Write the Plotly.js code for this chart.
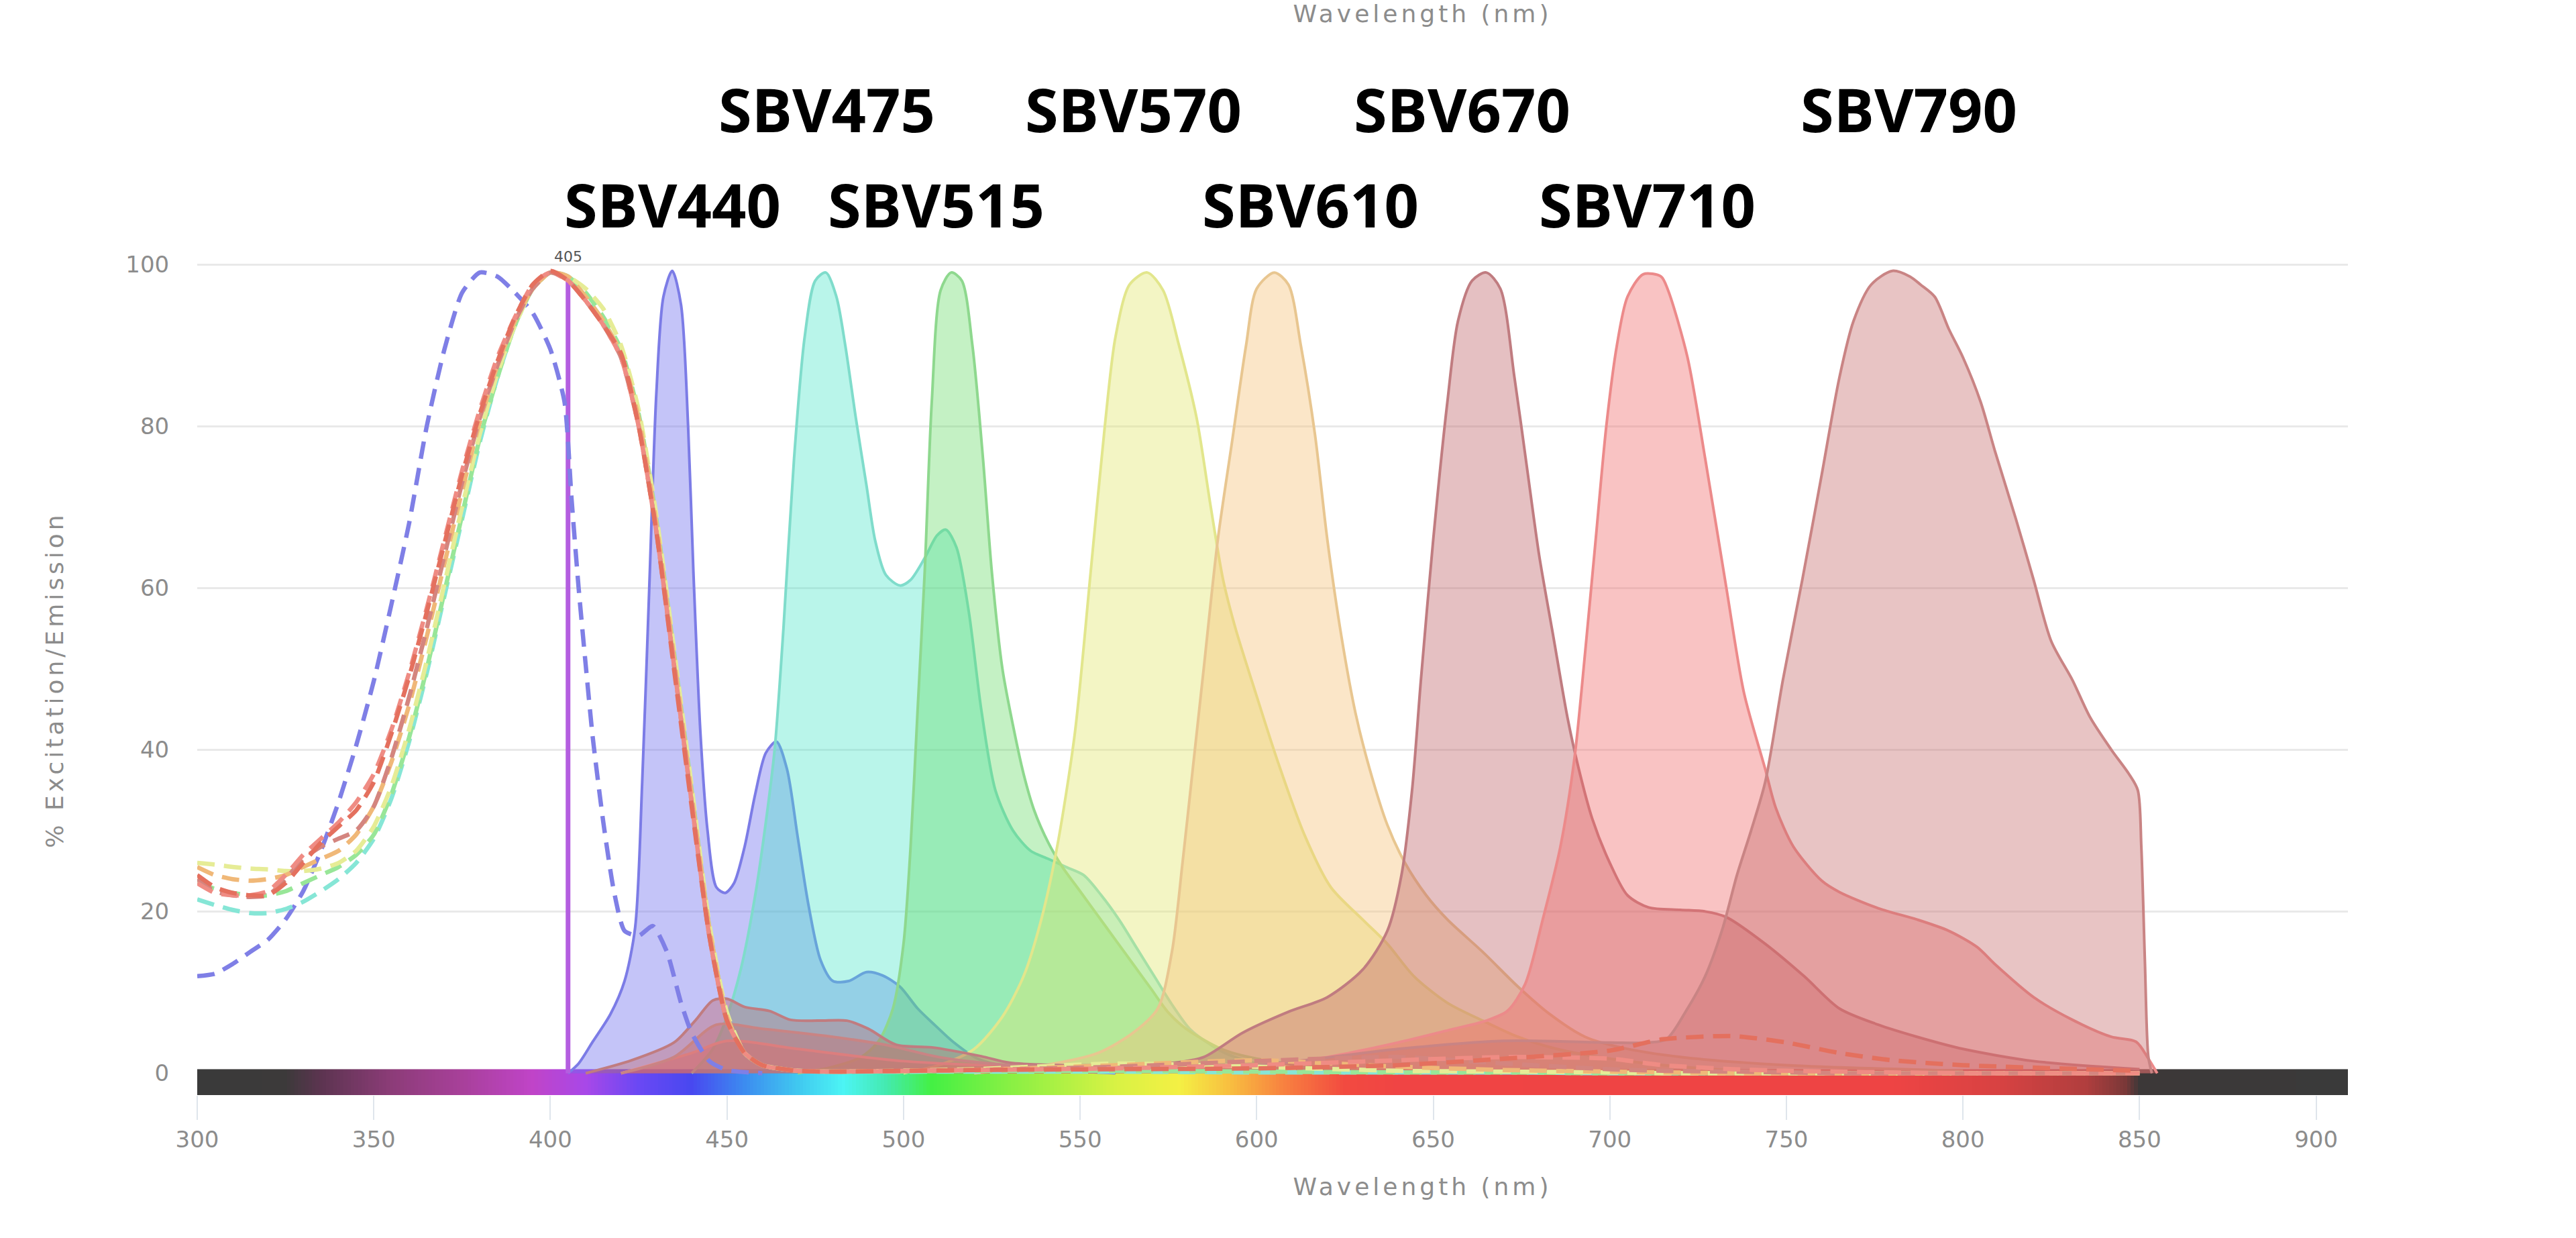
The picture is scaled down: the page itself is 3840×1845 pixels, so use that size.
<!DOCTYPE html>
<html>
<head>
<meta charset="utf-8">
<script src="https://cdn.plot.ly/plotly-3.0.1.min.js"></script>
<style>
html,body{margin:0;padding:0;background:#ffffff;}
#chart{width:3840px;height:1845px;}
.annotation[data-index="0"] text,.annotation[data-index="1"] text,.annotation[data-index="2"] text{letter-spacing:5px;}
</style>
</head>
<body>
<div id="chart"></div>
<script>
// ---------- DATA ----------
const dyeNames = ['SBV440','SBV475','SBV515','SBV570','SBV610','SBV670','SBV710','SBV790'];
const laserNm = 405;
const laserTop = 98;
const laserLabel = '405';
const xTickVals = [300,350,400,450,500,550,600,650,700,750,800,850,900];
const yTickVals = [0,20,40,60,80,100];

// Emission spectra (% vs nm)
const em440X = [405,408,412,417,421,424,426,428,430,432,434.5,437,439,440.5,442.5,444.5,447,449.5,452,455,458,461,464,467,470,473,476.5,480,484.5,489.5,494,499,504,509,514,521,530,545,560];
const em440Y = [0,1.2,3.9,7.3,11.4,18,36,60,84,96,99.2,95,80,62,42,30,23,22.3,23.5,28,34.5,39.6,41,37.6,29.3,21,14,11.4,11.4,12.5,12.1,10.7,8,5.9,3.9,1.8,0.8,0.3,0];

const em475X = [440,446,450,454,458,461,463.5,466,469,472,475,478,481,483.5,486.5,489.5,492,495,499,502,506,509.5,512,515,518.5,522,526,531,536,541,546,551,556,561,566,571,576,581,586,591,600,610,625];
const em475Y = [0,3,7,13,22,31,40,55,76,91,98,99,96,90,81,72.7,65.8,61.6,60.3,61,63.7,66.5,67.2,65,57,45,35,30,27.5,26.5,25.5,24.5,22,19,15.5,12,8.5,5.5,3.8,2.5,1.2,0.6,0];

const em515X = [470,480,488,493,497,500,502,504,506,508,510.5,513.5,516.5,519.5,522.5,525,528,531,534,537,541,545,550,555,560,565,570,575,580,590,600,620,640];
const em515Y = [0,0.8,2,4,8,16,28,45,62,83,96.8,99,98,90,76,62,50,43,37,32.5,28.5,25.5,22.5,19.5,16.5,13.5,10.5,7.5,5.5,3,1.8,0.6,0];

const em570X = [500,510,520,528,534,539,543.5,548.5,553,557,560,564,569,573.5,578,583,587,590.5,594,599,606,613.5,621,630,637,644.5,654,664,674,685,700,720,750];
const em570Y = [0,1,3,7,12,19,28,42,62,80,91,97.5,99,96.8,90,81,70,61,55,48,38.5,29.5,23,19,16,12,8.7,6.5,4.5,3,1.8,0.8,0];

const em610X = [520,540,555,565,572,576,579,582,585,589,593,597,600,605,609,612.5,616.5,620,624,628,632,637,642,648,654,664,674,683,693,703,720,750,800];
const em610Y = [0,1,2.5,5,8,15,26,38,50,66,78,90,97,99,97.5,90,79,66,54,44.5,37.6,30.7,26,22,19,15,10.7,7.3,4.5,3.2,2,1,0.3];

const em670X = [410,423,435,441,446,450,455,462,468,476,484,490,498,508,522,530,545,560,575,585,596,609,620,630,637,641,644,646.5,650,654,657,661,665,669,673,676.5,680,684,688,691,695,700,705,711,720,727,733,744,755,765,776,787,800,820,850];
const em670Y = [0,1.6,3.8,6.5,9,9.2,8.2,7.7,6.6,6.5,6.5,5.5,3.5,3.2,2.1,1.3,1,1,1.2,2,5,7.6,9.4,12.8,17.6,24.5,35,48.6,66,83,93,98,99,97,86,75,64,54,44,38,31.5,26,22,20.5,20.2,20,19.3,16,12,8,6,4.5,3,1.5,0.5];

const em710X = [420,440,450,470,500,540,580,600,620,640,655,665,671,676,681,686,690,693,696,699,702,705,709.5,714.5,716.5,722,727,733,738,744,747,752,760,765,776,787,796,804,809,820,831,842,849,852.5,855];
const em710Y = [0,2.5,4,3,1.5,0.8,0.8,1,2,3.8,5.4,6.5,7.7,11,19,28,39,52,66,80,90,96,98.8,98.5,96.8,88.5,76,60,47,37.6,32.8,28,23.8,22.4,20.4,19,17.6,15.6,13.5,9.4,6.6,4.5,3.9,1.8,0];

const em790X = [420,435,447,460,480,495,510,530,560,600,640,670,700,711,716,722,727,732,736,740,744,749,754.5,760,765,769,774,780,785,788,792,796,800,805,809,815,820,825,831,836,842,847,849.5,850.5,851.5,852.5,853.5];
const em790Y = [0,2,6,5.5,4.5,3.5,2,1,0.8,1,3,4,3.8,3.8,4.2,8,12,18,24.5,30,36,48.6,61,74,86,93,97.5,99.2,98.5,97.5,96,92,88.5,83,77,68.5,61,53.4,48.6,44,40,37,35,28,14,2,0];

// Excitation spectra (dashed)
const ex440X = [300,305,310,315,320,325,330,335,340,345,350,355,360,365,370,375,380,385,390,395,400,404,406,408,410,412,415,418,421,425,429,433,437,440,445,450,460];
const ex440Y = [12,12.3,13.5,15,16.5,19,22.5,27.5,33.5,40.5,48.5,58,68,80,89.5,96.5,99,98.5,96.5,94,89.5,83,71,60,50.5,41.5,31,22.5,17.6,17,18.2,15,8.7,5,1.5,0.4,0];

const exX = [300,305,310,315,320,325,330,335,340,345,350,355,360,365,370,375,380,385,390,395,400,405,410,415,420,425,430,435,440,445,450,455,460,470,480,520,560,600,640,670,700,715,735,750,765,780,800,850];
const ex475Y = [21.5,20.8,20.2,19.8,19.8,20.3,21.2,22.5,24,26,29,34,41,49.5,59,68.5,78,86,92.5,97,99,98.5,96,93,89,81,68,51.5,34.5,18,7,2.5,1,0.3,0.2,0.2,0.2,0.1,0.1,0.1,0,0,0,0,0,0,0,0];
const ex515Y = [23.5,22.8,22.3,22,22,22.5,23.5,24.5,25.5,27,29.5,34.5,41.5,50,59.5,69,78.5,86,92.5,97,99,98.5,96.5,93.5,89.5,81.5,68.5,52,35,18,7,2.5,1,0.3,0.2,0.3,0.3,0.2,0.1,0.1,0,0,0,0,0,0,0,0];
const ex570Y = [26,25.8,25.5,25.3,25.2,25,25,25.3,26,27.5,30.5,35.5,42.5,51,60.5,70,79,86.5,92.5,97,99,98.5,97,94.5,90,82,69,52.5,35.5,18.5,7.5,2.5,1,0.3,0.2,0.5,1.2,0.8,0.3,0.2,0.1,0,0,0,0,0,0,0];
const ex610Y = [25.5,24.5,24,23.8,24,24.5,25.5,26.5,27.5,29.5,33,38.5,45.5,54,63,72,80.5,87.5,93,97,99,98.5,96,93,89,81,68,51.5,34.5,18,7,2.5,1,0.3,0.2,0.4,1,1.6,0.8,0.4,0.2,0.1,0,0,0,0,0,0];
const ex670Y = [24,22.5,22,21.8,22,24,26.5,28,29,30,33,39,46.5,55,64,73,81,87.5,93,97,99,98,95.5,92.5,88.5,80,67,50.5,33.5,17,6.5,2.5,1,0.3,0.2,0.4,0.8,1.5,2,1.2,0.5,0.3,0.2,0.1,0,0,0,0];
const ex710Y = [23.5,22.3,22,22,22.5,24.5,27,29,31,33.5,37,42.5,49.5,57.5,66,74.5,82,88.5,93.5,97.5,99,98,95.5,92.5,88.5,80,67,50.5,33.5,17,6.5,2.5,1,0.3,0.2,0.4,0.6,1,1.6,2,1.8,1,0.5,0.3,0.2,0.1,0,0];
const ex790Y = [24.5,23,22.3,22,22,23.5,26,28.5,30.5,32.5,36,42,49,57,65.5,74,81.5,88,93.5,97.5,99.2,98,95.5,92.5,89,80,67,50,33,17,6.5,2.5,1,0.3,0.2,0.4,0.5,0.6,1,1.8,2.8,4.2,4.6,3.8,2.5,1.6,1,0.3];

// Spectrum colour bar stops (wavelength -> colour)
const barNm = [300,325,335,355,375,395,410,425,440,455,470,483,495,508,530,560,578,592,608,625,640,780,810,835,846,850,909];
const barColors = ['#3a3a3a','#3c3a3a','#5c3450','#8c3c78','#a8409a','#c044c8','#a848e8','#6a48f4','#4848f0','#3c8cf0','#40c8f0','#4cf4f4','#44eab0','#44f044','#88f044','#d8f244','#f4f044','#f8c040','#f88040','#f24a40','#f04444','#ee4444','#d84242','#b03e3e','#7a3838','#3c3838','#3a3a3a'];

// ---------- STYLES ----------
const emStyle = {
  SBV440:{line:'#7c7ce6', fill:'rgba(108,108,238,0.4)'},
  SBV475:{line:'#7fdccb', fill:'rgba(70,228,200,0.38)'},
  SBV515:{line:'#8ed88e', fill:'rgba(100,218,100,0.38)'},
  SBV570:{line:'#e2e68c', fill:'rgba(225,230,107,0.4)'},
  SBV610:{line:'#e8c690', fill:'rgba(245,192,117,0.4)'},
  SBV670:{line:'#c07c80', fill:'rgba(190,97,102,0.4)'},
  SBV710:{line:'#ec8a8a', fill:'rgba(240,105,105,0.4)'},
  SBV790:{line:'#c98484', fill:'rgba(197,107,107,0.4)'}
};
const exStyle = {
  SBV440:'#7f7fe6', SBV475:'#86e6d6', SBV515:'#98e698', SBV570:'#e6ec96',
  SBV610:'#f0b878', SBV670:'#d4857f', SBV710:'#ef8c84', SBV790:'#e4705e'
};

const emData = {
  SBV440:[em440X,em440Y], SBV475:[em475X,em475Y], SBV515:[em515X,em515Y], SBV570:[em570X,em570Y],
  SBV610:[em610X,em610Y], SBV670:[em670X,em670Y], SBV710:[em710X,em710Y], SBV790:[em790X,em790Y]
};
const exData = {
  SBV440:[ex440X,ex440Y], SBV475:[exX,ex475Y], SBV515:[exX,ex515Y], SBV570:[exX,ex570Y],
  SBV610:[exX,ex610Y], SBV670:[exX,ex670Y], SBV710:[exX,ex710Y], SBV790:[exX,ex790Y]
};

// ---------- TRACES ----------
const traces = [];
const xMin = 300, xMax = 909;
const barX = [];
for (let w = xMin; w <= xMax; w++) barX.push(w);
traces.push({
  type:'heatmap', x: barX, y: [-2.7, 0.5], z: [barX],
  zmin: xMin, zmax: xMax, zsmooth: false, showscale: false, hoverinfo: 'skip',
  colorscale: barNm.map((w, i) => [(w - xMin) / (xMax - xMin), barColors[i]])
});

dyeNames.forEach(n => {
  traces.push({
    type:'scatter', mode:'lines', name: n + ' Em',
    x: emData[n][0], y: emData[n][1],
    fill:'tozeroy', fillcolor: emStyle[n].fill,
    line:{color: emStyle[n].line, width: 4, shape:'spline', smoothing: 0.8},
    hoverinfo:'skip'
  });
});

traces.push({
  type:'scatter', mode:'lines', name:'Laser',
  x:[laserNm, laserNm], y:[0, laserTop],
  line:{color:'#b45ee0', width:7}, hoverinfo:'skip'
});

dyeNames.forEach(n => {
  traces.push({
    type:'scatter', mode:'lines', name: n + ' Ex',
    x: exData[n][0], y: exData[n][1],
    line:{color: exStyle[n], width: 6.5, dash:'26px,14px', shape:'spline', smoothing: 0.6},
    hoverinfo:'skip'
  });
});

// ---------- LAYOUT ----------
const labelPos = {
  SBV475:[478.2, 1.1704], SBV570:[565.1, 1.1704], SBV670:[658.2, 1.1704], SBV790:[784.7, 1.1704],
  SBV440:[434.5, 1.0573], SBV515:[509.3, 1.0573], SBV610:[615.3, 1.0573], SBV710:[710.6, 1.0573]
};
const grayFont = {family:'DejaVu Sans', size:36, color:'#8c8c8c'};
const annotations = [
  {text:'Wavelength (nm)', xref:'x', yref:'paper', x:647, y:-0.1083, showarrow:false, font:grayFont, xanchor:'center', yanchor:'middle'},
  {text:'Wavelength (nm)', xref:'x', yref:'paper', x:647, y:1.2834, showarrow:false, font:grayFont, xanchor:'center', yanchor:'middle'},
  {text:'% Excitation/Emission', xref:'paper', yref:'paper', x:-0.0664, y:0.4928, textangle:-90, showarrow:false, font:grayFont, xanchor:'center', yanchor:'middle'},
  {text: laserLabel, xref:'x', yref:'paper', x: laserNm, y:0.9952, showarrow:false, borderpad:0, font:{family:'DejaVu Sans', size:22, color:'#555555'}, xanchor:'center', yanchor:'middle'}
];
dyeNames.forEach(n => {
  annotations.push({
    text: n, xref:'x', yref:'paper', x: labelPos[n][0], y: labelPos[n][1],
    showarrow:false, xanchor:'center', yanchor:'middle', borderpad:0,
    font:{family:'Open Sans', size:90, color:'#000000', weight:700}
  });
});

const layout = {
  width:3840, height:1845,
  margin:{l:294, r:340, t:376, b:213, pad:0},
  paper_bgcolor:'#ffffff', plot_bgcolor:'#ffffff',
  showlegend:false, hovermode:false,
  font:{family:'DejaVu Sans', color:'#8c8c8c'},
  xaxis:{
    range:[xMin, xMax], tickvals: xTickVals, showgrid:false, zeroline:false, showline:false,
    ticks:'outside', ticklen:36, tickwidth:2, tickcolor:'#dfe5ec',
    tickfont:{family:'DejaVu Sans', size:34, color:'#8c8c8c'}
  },
  yaxis:{
    range:[-2.7, 101.5], tickvals: yTickVals, showgrid:true, gridcolor:'#e9e9e9', gridwidth:3,
    zeroline:false, showline:false,
    ticks:'outside', ticklen:34, tickcolor:'rgba(0,0,0,0)',
    tickfont:{family:'DejaVu Sans', size:34, color:'#8c8c8c'}
  },
  annotations: annotations
};

Plotly.newPlot('chart', traces, layout, {staticPlot:true, displayModeBar:false});
</script>
</body>
</html>
